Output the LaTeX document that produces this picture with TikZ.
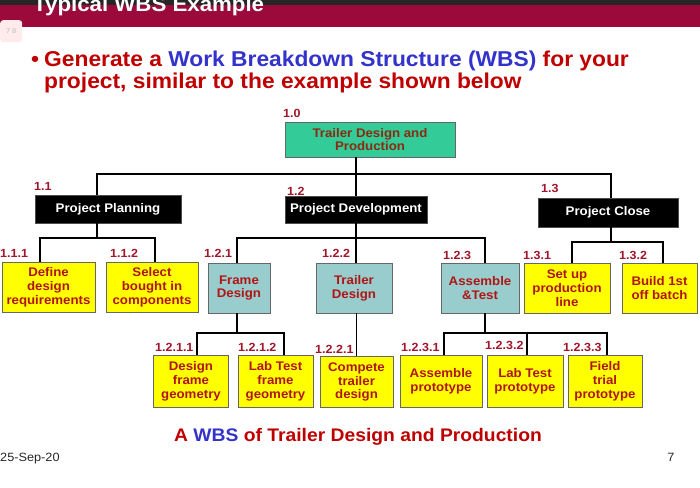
\documentclass[tikz,border=0pt]{standalone}
\usepackage{fontspec}
\setmainfont{Liberation Sans}[FakeStretch=1.06]
\definecolor{bannerred}{HTML}{9B0A3A}
\definecolor{headred}{HTML}{C00000}
\definecolor{headblue}{HTML}{3333CC}
\definecolor{numred}{HTML}{A0162A}
\definecolor{boxred}{HTML}{B01515}
\definecolor{rootgreen}{HTML}{33CC99}
\definecolor{roottext}{HTML}{8B2A10}
\definecolor{taskteal}{HTML}{99CCCC}
\definecolor{taskyellow}{HTML}{FFFF00}
\begin{document}
\begin{tikzpicture}[x=1pt,y=-1pt,
  wp/.style={draw=black!70,line width=0.6pt,fill=black,text=white,inner sep=0pt,
    font=\bfseries\fontsize{12.5}{13}\selectfont},
  task/.style={draw=black!60,line width=0.6pt,align=center,inner sep=0pt,text=boxred,
    font=\bfseries\fontsize{12.5}{13.8}\selectfont},
  yel/.style={task,fill=taskyellow},
  tea/.style={task,fill=taskteal},
  num/.style={anchor=base west,inner sep=0pt,text=numred,font=\bfseries\fontsize{11.8}{12}\selectfont},
  link/.style={line width=1.6pt}]
\useasboundingbox (0,0) rectangle (700,487);
% slide banner
\begin{scope}
\clip (0,0) rectangle (700,27);
\fill[black!85] (0,0) rectangle (700,5);
\fill[bannerred] (0,5) rectangle (700,27);
\node (title) at (33,12) [anchor=base west,inner sep=0pt,text=white,font=\bfseries\fontsize{21}{21}\selectfont] {Typical WBS Example};
\end{scope}
\node (tab) at (0,20) [anchor=north west,minimum width=22pt,minimum height=22pt,inner sep=0pt,rounded corners=3pt,fill=red!8,text=black!25,font=\fontsize{7}{7}\selectfont] {7 8};
% heading
\node (bul) at (31,66) [anchor=base west,inner sep=0pt,text=headred,font=\bfseries\fontsize{21.5}{22}\selectfont] {\textbullet};
\node (head) at (44,88) [anchor=base west,inner sep=0pt,align=left,text=headred,font=\bfseries\fontsize{21.5}{22}\selectfont]
  {Generate a \textcolor{headblue}{Work Breakdown Structure (WBS)} for your\\project, similar to the example shown below};
% level 0 and 1
\node (root) at (370,139.5) [task,fill=rootgreen,text=roottext,minimum width=170pt,minimum height=35pt] {Trailer Design and\\Production};
\node (pp) at (108,209) [wp,minimum width=146pt,minimum height=28pt] {Project Planning};
\node (pd) at (356,209.5) [wp,minimum width=142pt,minimum height=27pt] {Project Development};
\node (pc) at (608,212.5) [wp,minimum width=140pt,minimum height=29pt] {Project Close};
% level 2
\node (ddr) at (48.5,287) [yel,minimum width=93pt,minimum height=50pt] {Define\\design\\requirements};
\node (sbc) at (152,287) [yel,minimum width=92pt,minimum height=50pt] {Select\\bought in\\components};
\node (fd) at (239,288) [tea,minimum width=62pt,minimum height=50pt] {Frame\\Design};
\node (td) at (354,288) [tea,minimum width=76pt,minimum height=50pt] {Trailer\\Design};
\node (asm) at (480,288) [tea,minimum width=78pt,minimum height=50pt] {Assemble\\\&Test};
\node (spl) at (567,288) [yel,minimum width=86pt,minimum height=50pt] {Set up\\production\\line};
\node (bob) at (659.5,288) [yel,minimum width=75pt,minimum height=50pt] {Build 1st\\off batch};
% level 3
\node (dfg) at (191,381) [yel,minimum width=75pt,minimum height=52pt] {Design\\frame\\geometry};
\node (ltf) at (275.5,381) [yel,minimum width=75pt,minimum height=52pt] {Lab Test\\frame\\geometry};
\node (ctd) at (356.5,382) [yel,minimum width=73pt,minimum height=51pt] {Compete\\trailer\\design};
\node (asp) at (441,381) [yel,minimum width=82pt,minimum height=52pt] {Assemble\\prototype};
\node (ltp) at (525,381) [yel,minimum width=76pt,minimum height=52pt] {Lab Test\\prototype};
\node (ftp) at (605,381) [yel,minimum width=74pt,minimum height=52pt] {Field\\trial\\prototype};
% numbers
\node (n10) at (283,117) [num] {1.0};
\node (n11) at (34,190) [num] {1.1};
\node (n12) at (287,195) [num] {1.2};
\node (n13) at (541,192) [num] {1.3};
\node (n111) at (0,257) [num] {1.1.1};
\node (n112) at (110,257) [num] {1.1.2};
\node (n121) at (204,257) [num] {1.2.1};
\node (n122) at (322,257) [num] {1.2.2};
\node (n123) at (443,259) [num] {1.2.3};
\node (n131) at (523,259) [num] {1.3.1};
\node (n132) at (619,259) [num] {1.3.2};
\node (n1211) at (155,351) [num] {1.2.1.1};
\node (n1212) at (238,351) [num] {1.2.1.2};
\node (n1221) at (315,353) [num] {1.2.2.1};
\node (n1231) at (401,351) [num] {1.2.3.1};
\node (n1232) at (485,349) [num] {1.2.3.2};
\node (n1233) at (563,351) [num] {1.2.3.3};
% bus points
\coordinate (b1l) at (97,174);
\coordinate (b1r) at (611,174);
\coordinate (b2l) at (40,238);
\coordinate (b2m) at (97,238);
\coordinate (b2r) at (155,238);
\coordinate (b3l) at (237,238);
\coordinate (b3r) at (485,238);
\coordinate (b4l) at (572,242);
\coordinate (b4r) at (663,242);
\coordinate (b5l) at (197,333);
\coordinate (b5r) at (284,333);
\coordinate (b6l) at (444,333);
\coordinate (b6m) at (527,333);
\coordinate (b6r) at (607,333);
% connectors
\draw[link] (root.south -| pd.north) -- (pd.north);
\draw[link] (b1l |- pp.north) -- (b1l) -- (b1r) -- (b1r |- pc.north);
\draw[link] (pp.south -| b2m) -- (b2m);
\draw[link] (b2l |- ddr.north) -- (b2l) -- (b2r) -- (b2r |- sbc.north);
\draw[link] (pd.south) -- (td.north -| pd.south);
\draw[link] (b3l |- fd.north) -- (b3l) -- (b3r) -- (b3r |- asm.north);
\draw[link] (pc.south -| b1r) -- (b1r |- b4l);
\draw[link] (b4l |- spl.north) -- (b4l) -- (b4r) -- (b4r |- bob.north);
\draw[link] (fd.south -| b3l) -- (b3l |- b5l);
\draw[link] (b5l |- dfg.north) -- (b5l) -- (b5r) -- (b5r |- ltf.north);
\draw[link] (td.south -| ctd.north) -- (ctd.north);
\draw[link] (asm.south -| b3r) -- (b3r |- b6l);
\draw[link] (b6l |- asp.north) -- (b6l) -- (b6r) -- (b6r |- ftp.north);
\draw[link] (b6m) -- (b6m |- ltp.north);
% footer
\node (cap) at (358,441) [anchor=base,inner sep=0pt,text=headred,font=\bfseries\fontsize{18.2}{19}\selectfont] {A \textcolor{headblue}{WBS} of Trailer Design and Production};
\node (date) at (0,461) [anchor=base west,inner sep=0pt,text=black!85,font=\fontsize{12}{13}\selectfont] {25-Sep-20};
\node (page) at (671,461) [anchor=base,inner sep=0pt,text=black!85,font=\fontsize{12}{13}\selectfont] {7};
\end{tikzpicture}
\end{document}
